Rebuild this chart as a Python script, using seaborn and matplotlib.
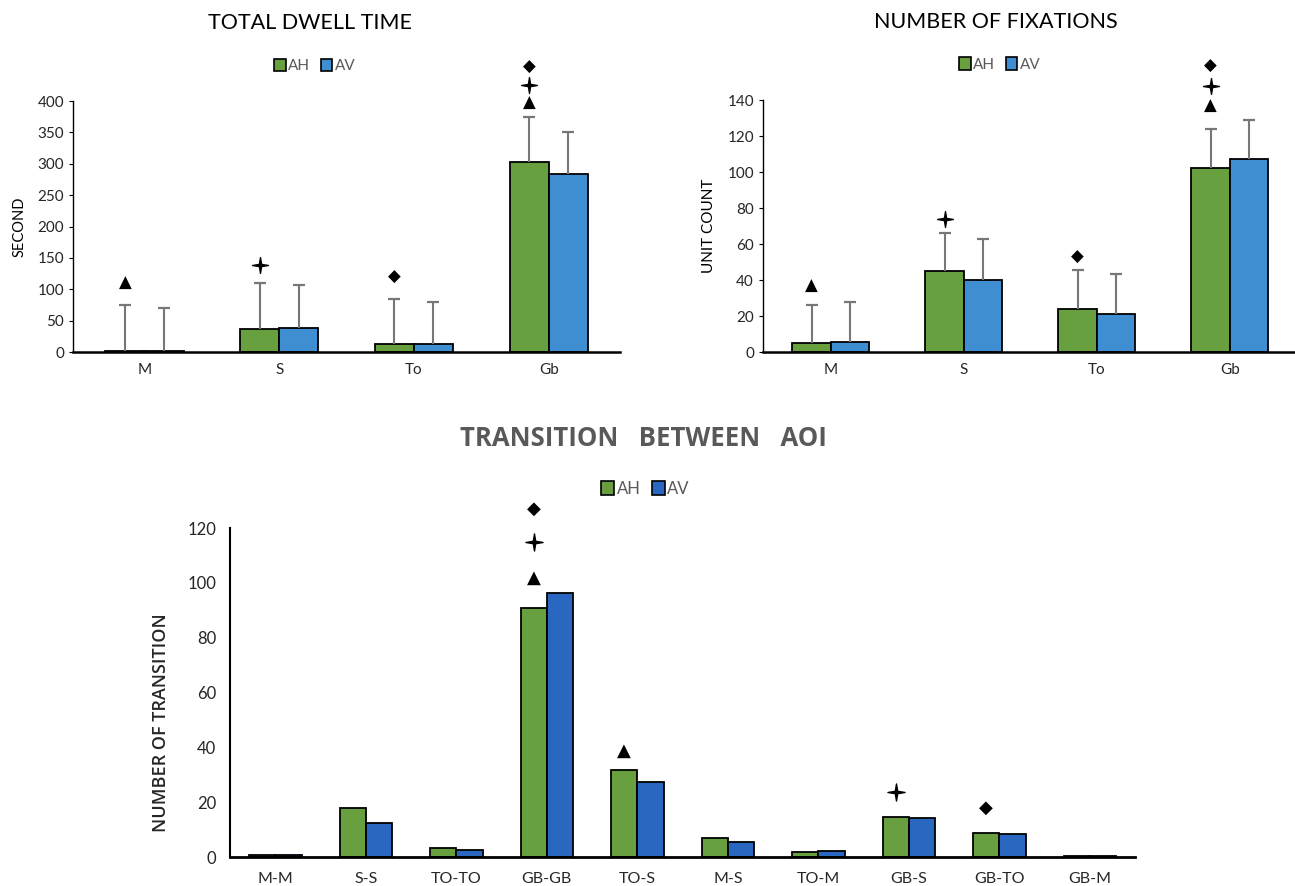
import matplotlib
matplotlib.use("Agg")
import matplotlib.pyplot as plt
import numpy as np
import pandas as pd
import seaborn as sns
from matplotlib.path import Path

# ---- data ----
groups = ["AH", "AV"]
aoi = ["M", "S", "To", "Gb"]

dwell_ah = [2, 36, 12, 303]
dwell_av = [2, 39, 12, 284]
dwell_err_ah = [73, 74, 73, 72]
dwell_err_av = [68, 68, 67, 66]

fix_ah = [5, 45, 24, 102.5]
fix_av = [5.5, 40, 21, 107]
fix_err_ah = [21, 21, 21.5, 21.5]
fix_err_av = [22.5, 23, 22.5, 22]

trans = ["M-M", "S-S", "TO-TO", "GB-GB", "TO-S", "M-S", "TO-M", "GB-S", "GB-TO", "GB-M"]
trans_ah = [0.8, 18, 3.2, 91, 31.6, 6.8, 1.8, 14.6, 8.9, 0.4]
trans_av = [0.8, 12.4, 2.6, 96.2, 27.3, 5.6, 2.2, 14.2, 8.5, 0.4]

# significance marks: (category index, symbol, y value)
dwell_marks = [(0, "▲", 110), (1, "✦", 138), (2, "◆", 120),
               (3, "▲", 397), (3, "✦", 425), (3, "◆", 454)]
fix_marks = [(0, "▲", 37), (1, "✦", 74), (2, "◆", 53),
             (3, "▲", 137), (3, "✦", 148), (3, "◆", 159)]
trans_marks = [(3, "▲", 102), (3, "✦", 115), (3, "◆", 127),
               (4, "▲", 38.6), (7, "✦", 23.7), (8, "◆", 18)]

GREEN = "#69A03F"
BLUE_TOP = "#3F8ED2"
BLUE_BOT = "#2A67C0"

# thin four-pointed star marker
_ang = np.deg2rad(np.arange(0, 360, 45) + 90)
_rad = np.array([1, 0.2] * 4)
_verts = np.column_stack([_rad * np.cos(_ang), _rad * np.sin(_ang)])
STAR = Path(np.vstack([_verts, _verts[:1]]), closed=True)


def long_df(cats, ah, av):
    return pd.DataFrame({
        "cat": cats * 2,
        "grp": ["AH"] * len(cats) + ["AV"] * len(cats),
        "val": list(ah) + list(av),
    })


def bar_centers(ax, n):
    # seaborn adds patches per hue level in order
    patches = ax.patches[: 2 * n]
    xs = np.array([p.get_x() + p.get_width() / 2 for p in patches])
    return xs[:n], xs[n:]


def draw_panel(ax, cats, ah, av, blue, ylim, yticks, ylabel, xlim):
    df = long_df(cats, ah, av)
    sns.barplot(data=df, x="cat", y="val", hue="grp", order=cats, hue_order=groups,
                palette=[GREEN, blue], saturation=1, width=0.58, errorbar=None,
                edgecolor="black", linewidth=1.3, ax=ax, legend=False)
    ax.set_ylim(*ylim)
    ax.set_xlim(*xlim)
    ax.set_yticks(yticks)
    ax.set_xlabel("")
    ax.set_ylabel(ylabel)
    sns.despine(ax=ax)
    ax.spines["bottom"].set_linewidth(1.8)
    ax.spines["left"].set_linewidth(1.0)
    ax.tick_params(axis="x", length=0, pad=8)
    ax.tick_params(axis="y", length=3, width=0.8)
    for lab in ax.get_xticklabels() + ax.get_yticklabels():
        lab.set_color("#262626")


def add_errors(ax, xs, vals, errs):
    vals = np.asarray(vals, float)
    tops = vals + np.asarray(errs, float)
    ax.vlines(xs, vals, tops, color="#777777", linewidth=1.5, zorder=1)
    ax.plot(xs, tops, linestyle="none", marker="_", markersize=8,
            markeredgewidth=1.6, color="#777777", zorder=1)


def add_marks(ax, xs, marks, size):
    for idx, sym, yv in marks:
        if sym == "✦":
            ax.plot([xs[idx]], [yv], linestyle="none", marker=STAR,
                    markersize=size * 0.95, color="black", clip_on=False)
        else:
            ax.text(xs[idx], yv, sym, ha="center", va="center", fontsize=size,
                    family="DejaVu Sans", color="black", clip_on=False)


def add_legend(ax, blue, anchor, fs):
    handles = [plt.Rectangle((0, 0), 1, 1, facecolor=GREEN, edgecolor="black", linewidth=1.2),
               plt.Rectangle((0, 0), 1, 1, facecolor=blue, edgecolor="black", linewidth=1.2)]
    leg = ax.legend(handles, groups, loc="center", bbox_to_anchor=anchor, ncol=2,
                    frameon=False, handlelength=0.75, handleheight=0.9,
                    handletextpad=0.15, columnspacing=0.7, fontsize=fs)
    for t in leg.get_texts():
        t.set_color("#595959")


plt.rcParams["font.family"] = ["Lato", "DejaVu Sans"]

fig = plt.figure(figsize=(12.95, 8.86), dpi=100)

# ---- total dwell time ----
ax1 = fig.add_axes([0.0564, 0.6027, 0.4224, 0.2833])
draw_panel(ax1, aoi, dwell_ah, dwell_av, BLUE_TOP, (0, 400), range(0, 401, 50),
           "SECOND", (-0.53, 3.53))
ax1.tick_params(labelsize=11)
ax1.set_ylabel("SECOND", labelpad=8, fontsize=10.5)
xa, xb = bar_centers(ax1, len(aoi))
add_errors(ax1, xa, dwell_ah, dwell_err_ah)
add_errors(ax1, xb, dwell_av, dwell_err_av)
add_marks(ax1, xa, dwell_marks, 12)
ax1.set_title("TOTAL DWELL TIME", fontsize=15.5, pad=52, color="black", x=0.433)
add_legend(ax1, BLUE_TOP, (0.442, 1.14), 11)

# ---- number of fixations ----
ax2 = fig.add_axes([0.5892, 0.6027, 0.4108, 0.2844])
draw_panel(ax2, aoi, fix_ah, fix_av, BLUE_TOP, (0, 140), range(0, 141, 20),
           "UNIT COUNT", (-0.51, 3.49))
ax2.tick_params(labelsize=11)
ax2.set_ylabel("UNIT COUNT", labelpad=8, fontsize=11)
xa, xb = bar_centers(ax2, len(aoi))
add_errors(ax2, xa, fix_ah, fix_err_ah)
add_errors(ax2, xb, fix_av, fix_err_av)
add_marks(ax2, xa, fix_marks, 12)
ax2.set_title("NUMBER OF FIXATIONS", fontsize=15.5, pad=52, color="black", x=0.438)
add_legend(ax2, BLUE_TOP, (0.445, 1.14), 11)

# ---- transitions ----
ax3 = fig.add_axes([0.1776, 0.0327, 0.699, 0.3713])
draw_panel(ax3, trans, trans_ah, trans_av, BLUE_BOT, (0, 120), range(0, 121, 20),
           "NUMBER OF TRANSITION", (-0.5, 9.5))
ax3.spines["left"].set_linewidth(1.5)
ax3.spines["bottom"].set_linewidth(2.0)
ax3.tick_params(axis="y", labelsize=12, length=0, pad=10)
ax3.tick_params(axis="x", labelsize=11.5, pad=11)
ax3.set_ylabel("NUMBER OF TRANSITION", fontsize=13, fontweight="semibold",
               color="#262626", family=["Open Sans", "DejaVu Sans"])
ax3.yaxis.set_label_coords(-0.066, 0.41)
xa, xb = bar_centers(ax3, len(trans))
add_marks(ax3, xa, trans_marks, 13)
add_legend(ax3, BLUE_BOT, (0.459, 1.12), 12)
fig.text(0.4965, 0.505, "TRANSITION   BETWEEN   AOI", ha="center", va="center",
         fontsize=18.5, fontweight="bold", color="#595959", family=["Open Sans", "DejaVu Sans"])

fig.savefig("out.png", dpi=100)
